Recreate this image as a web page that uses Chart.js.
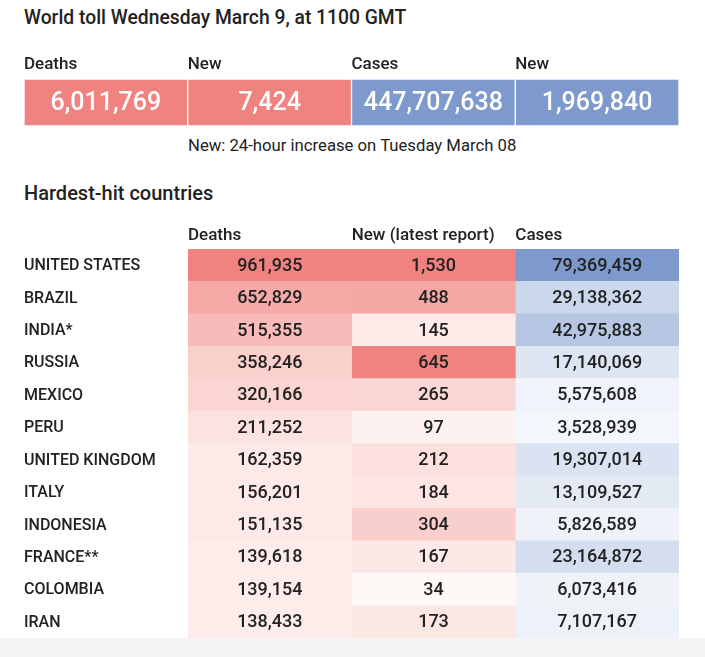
<!DOCTYPE html>
<html>
<head>
<meta charset="utf-8">
<script src="https://cdn.jsdelivr.net/npm/chart.js@4.4.1/dist/chart.umd.min.js"></script>
<style>
  html, body { margin: 0; padding: 0; background: #fff; }
  body { width: 705px; height: 657px; position: relative; overflow: hidden; font-family: Roboto, sans-serif; color: #222; }
  .txt { position: absolute; white-space: nowrap; }
  #title { left: 24px; top: 6px; font-size: 19.3px; font-weight: 500; }
  #note { left: 188px; top: 136px; font-size: 16.7px; }
  #sub { left: 24px; top: 181px; font-size: 20px; font-weight: 500; }
  #band { position: absolute; left: 0; top: 638px; width: 705px; height: 19px; background: #f4f4f4; }
  canvas { position: absolute; left: 0; }
  #worldChart { top: 53px; }
  #countryChart { top: 223px; }
</style>
</head>
<body>
<div class="txt" id="title">World toll Wednesday March 9, at 1100 GMT</div>
<div class="txt" id="note">New: 24-hour increase on Tuesday March 08</div>
<div class="txt" id="sub">Hardest-hit countries</div>
<div id="band"></div>
<canvas id="worldChart" width="705" height="73"></canvas>
<canvas id="countryChart" width="705" height="415"></canvas>
<script>
// world totals
const worldHeaders = ['Deaths', 'New', 'Cases', 'New'];
const worldValues = [6011769, 7424, 447707638, 1969840];

// hardest-hit countries
const countries = ['UNITED STATES', 'BRAZIL', 'INDIA*', 'RUSSIA', 'MEXICO', 'PERU', 'UNITED KINGDOM', 'ITALY', 'INDONESIA', 'FRANCE**', 'COLOMBIA', 'IRAN'];
const tableHeaders = ['Deaths', 'New (latest report)', 'Cases'];
const deaths = [961935, 652829, 515355, 358246, 320166, 211252, 162359, 156201, 151135, 139618, 139154, 138433];
const newDeaths = [1530, 488, 145, 645, 265, 97, 212, 184, 304, 167, 34, 173];
const cases = [79369459, 29138362, 42975883, 17140069, 5575608, 3528939, 19307014, 13109527, 5826589, 23164872, 6073416, 7107167];

const RED = [240, 130, 127];
const BLUE = [125, 153, 205];

function mix(lo, hi, t) {
    t = Math.max(0, Math.min(1, t));
    const c = lo.map((v, i) => Math.round(v + (hi[i] - v) * t));
    return `rgb(${c[0]}, ${c[1]}, ${c[2]})`;
}

// colour scale per column: low colour, high colour, value range, curve
function shade(values, lo, hi, min, max, pow) {
    return values.map(v => mix(lo, hi, Math.pow((v - min) / (max - min), pow)));
}

Chart.defaults.font.family = "Roboto, sans-serif";
Chart.defaults.color = '#222';
Chart.defaults.animation = false;

// writes the number in the middle of each cell
const cellLabels = {
    id: 'cellLabels',
    afterDatasetsDraw(chart, args, opts) {
        const ctx = chart.ctx;
        chart.data.datasets.forEach((ds, i) => {
            chart.getDatasetMeta(i).data.forEach((bar, j) => {
                ctx.save();
                ctx.font = opts.font;
                ctx.fillStyle = opts.color;
                ctx.textAlign = 'center';
                ctx.textBaseline = 'middle';
                ctx.fillText(ds.values[j].toLocaleString('en-US'), (bar.x + bar.base) / 2, bar.y + 1);
                ctx.restore();
            });
        });
    }
};

new Chart(document.getElementById('worldChart'), {
    type: 'bar',
    plugins: [cellLabels],
    data: {
        labels: ['World'],
        datasets: worldValues.map((v, i) => ({
            data: [[i, i + 1]],
            values: [v],
            backgroundColor: i < 2 ? 'rgb(240, 130, 127)' : 'rgb(125, 153, 205)',
            borderColor: '#ffffff',
            borderWidth: 1,
            borderSkipped: false,
            grouped: false,
            barPercentage: 1,
            categoryPercentage: 1
        }))
    },
    options: {
        responsive: false,
        indexAxis: 'y',
        layout: { autoPadding: false, padding: { left: 24, right: 26, top: 0, bottom: 0 } },
        plugins: {
            legend: { display: false },
            tooltip: { enabled: false },
            cellLabels: { font: '500 25px Roboto', color: '#ffffff' }
        },
        scales: {
            x: {
                type: 'linear', position: 'top', min: 0, max: 4,
                grid: { display: false, drawTicks: false },
                border: { display: false },
                ticks: {
                    stepSize: 1, align: 'start', maxRotation: 0, autoSkip: false, padding: 4,
                    font: { size: 17, weight: '500' },
                    callback: v => worldHeaders[v] || ''
                },
                afterFit: scale => { scale.height = 26; }
            },
            y: { display: false }
        }
    }
});

const columns = [
    { values: deaths, colors: shade(deaths, [253, 236, 234], RED, 138433, 961935, 1) },
    { values: newDeaths, colors: shade(newDeaths, [254, 248, 246], RED, 34, 645, 1.3) },
    { values: cases, colors: shade(cases, [243, 246, 250], BLUE, 3528939, 79369459, 1) }
];

new Chart(document.getElementById('countryChart'), {
    type: 'bar',
    plugins: [cellLabels],
    data: {
        labels: countries,
        datasets: columns.map((col, i) => ({
            data: countries.map(() => [i, i + 1]),
            values: col.values,
            backgroundColor: col.colors,
            borderWidth: 0,
            grouped: false,
            barPercentage: 1,
            categoryPercentage: 1
        }))
    },
    options: {
        responsive: false,
        indexAxis: 'y',
        layout: { autoPadding: false, padding: { left: 24, right: 26, top: 0, bottom: 0 } },
        plugins: {
            legend: { display: false },
            tooltip: { enabled: false },
            cellLabels: { font: '500 18px Roboto', color: '#222' }
        },
        scales: {
            x: {
                type: 'linear', position: 'top', min: 0, max: 3,
                grid: { display: false, drawTicks: false },
                border: { display: false },
                ticks: {
                    stepSize: 1, align: 'start', maxRotation: 0, autoSkip: false, padding: 3,
                    font: { size: 17, weight: '500' },
                    callback: v => tableHeaders[v] || ''
                },
                afterFit: scale => { scale.height = 26; }
            },
            y: {
                grid: { display: false, drawTicks: false },
                border: { display: false },
                ticks: { crossAlign: 'far', padding: 0, labelOffset: 1, font: { size: 16, weight: '500' } },
                afterFit: scale => {
                    scale.width = 164;
                    scale.paddingTop = 0;
                    scale.paddingBottom = 0;
                }
            }
        }
    }
});
</script>
</body>
</html>
